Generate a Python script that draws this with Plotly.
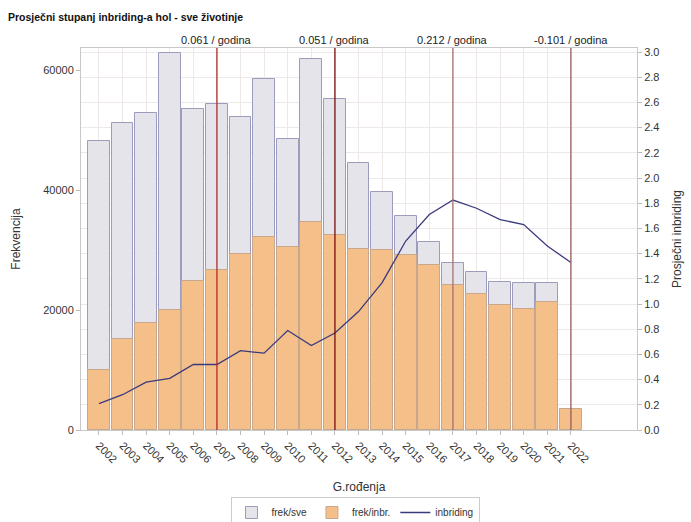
import plotly.graph_objects as go

# Birth years
years = list(range(2002, 2023))

# Frequency of all animals per birth year (no value for 2022)
frek_sve = [48200, 51100, 52900, 62800, 53500, 54300, 52200, 58450, 48550, 61830,
            55100, 44450, 39600, 35700, 31400, 27800, 26400, 24600, 24450, 24450, None]

# Frequency of animals with known inbreeding
frek_inbr = [10000, 15170, 17780, 20000, 24900, 26670, 29330, 32200, 30450, 34700,
             32500, 30170, 30000, 29170, 27500, 24170, 22670, 20830, 20170, 21390, 3500]

# Average inbreeding coefficient
inbriding = [0.21, 0.28, 0.38, 0.41, 0.52, 0.52, 0.63, 0.61, 0.79, 0.67,
             0.77, 0.94, 1.17, 1.50, 1.71, 1.825, 1.76, 1.67, 1.63, 1.46, 1.33]

# Trend markers: year and yearly change label
trend_years = [2007, 2012, 2017, 2022]
trend_labels = ["0.061 / godina", "0.051 / godina", "0.212 / godina", "-0.101 / godina"]
trend_colors = ["#b02a2a", "#7a0c0c", "#a87070", "#9a5a5a"]

# Axis tick values
left_ticks = [0, 20000, 40000, 60000]
right_ticks = [i / 10 for i in range(0, 31, 2)]

FONT = "Liberation Sans, Arial, sans-serif"
TXT = "#333333"

fig = go.Figure()

fig.add_trace(go.Bar(
    x=years, y=frek_sve, name="frek/sve", width=0.92,
    marker=dict(color="#e4e4ea", line=dict(color="#9c9cbc", width=1)),
))
fig.add_trace(go.Bar(
    x=years, y=frek_inbr, name="frek/inbr.", width=0.92,
    marker=dict(color="#f4bf88", line=dict(color="#c8a88c", width=1)),
))
fig.add_trace(go.Scatter(
    x=years, y=inbriding, name="inbriding", yaxis="y2", mode="lines",
    line=dict(color="#3a3a7e", width=1.3),
))

for yr, lab, col in zip(trend_years, trend_labels, trend_colors):
    fig.add_shape(type="line", xref="x", yref="paper", x0=yr, x1=yr, y0=0, y1=1,
                  line=dict(color=col, width=1.3), layer="above")
    fig.add_annotation(x=yr, y=1, xref="x", yref="paper", text=lab, showarrow=False,
                       yanchor="bottom", yshift=0, font=dict(family=FONT, size=11, color="#222"))

fig.update_layout(
    width=691, height=522,
    margin=dict(l=81, r=54, t=48, b=92),
    paper_bgcolor="white", plot_bgcolor="white",
    barmode="overlay",
    font=dict(family=FONT, size=11, color=TXT),
    title=dict(text="<b>Prosječni stupanj inbriding-a hol - sve životinje</b>",
               xref="container", yref="container", x=8 / 691, xanchor="left",
               y=1 - 17 / 522, yanchor="middle",
               font=dict(family=FONT, size=10.5, color="#111")),
    xaxis=dict(
        range=[2001.24, 2024.8], tickmode="array", tickvals=years,
        ticktext=[str(y) for y in years], tickangle=45,
        showgrid=True, gridcolor="#efe8e8", gridwidth=1,
        showline=True, linecolor="#c8c8c8", mirror=True,
        ticks="outside", ticklen=4, tickcolor="#bbbbbb",
        title=dict(text="G.rođenja", standoff=18, font=dict(size=12, color=TXT)),
        zeroline=False, automargin=False,
    ),
    yaxis=dict(
        range=[0, 63667], tickmode="array", tickvals=left_ticks,
        ticktext=[str(v) for v in left_ticks],
        showgrid=False, zeroline=False,
        showline=True, linecolor="#c8c8c8",
        ticks="outside", ticklen=4, tickcolor="#bbbbbb",
        title=dict(text="Frekvencija", standoff=20, font=dict(size=12, color=TXT)),
        automargin=False,
    ),
    yaxis2=dict(
        overlaying="y", side="right", range=[0, 3.032],
        tickmode="array", tickvals=right_ticks,
        ticktext=[f"{v:.1f}" for v in right_ticks],
        showgrid=True, gridcolor="#efe8e8", zeroline=False,
        showline=True, linecolor="#c8c8c8",
        ticks="outside", ticklen=4, tickcolor="#bbbbbb",
        title=dict(text="Prosječni inbriding", standoff=14, font=dict(size=12, color=TXT)),
        automargin=False,
    ),
    legend=dict(
        orientation="h", x=355 / 691, xanchor="center", xref="container",
        y=1 - 497 / 522, yanchor="top", yref="container",
        bordercolor="#cccccc", borderwidth=1, font=dict(size=10),
        traceorder="normal", itemwidth=30,
    ),
    bargap=0,
)

fig.write_html("out.html")
